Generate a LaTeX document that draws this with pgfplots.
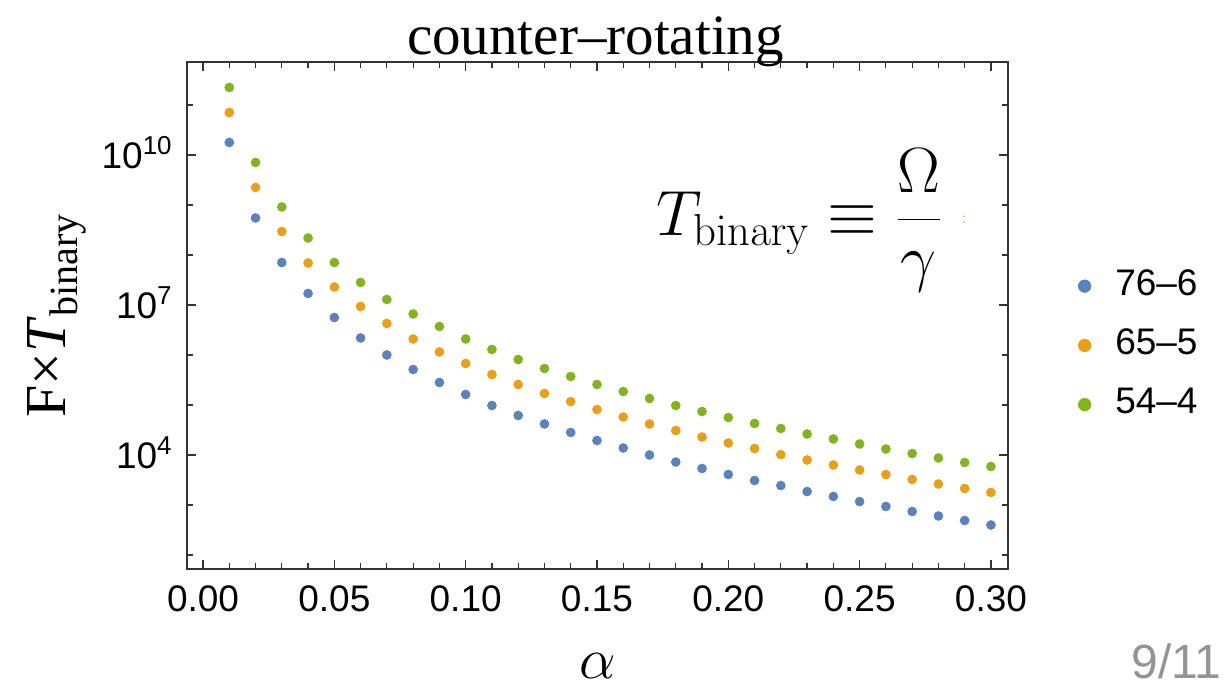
\RequirePackage{fix-cm}
\documentclass[border=0pt]{standalone}
\usepackage{pgfplots}
\pgfplotsset{compat=1.18}
\usepackage{pgfplotstable}
\usepackage[no-math]{fontspec}
\setmainfont{Liberation Sans}
\newfontfamily\timesfont[Ligatures=TeX]{Liberation Serif}
\definecolor{mblue}{HTML}{5A82BE}
\definecolor{morange}{HTML}{EC9E14}
\definecolor{mgreen}{HTML}{82B41C}
\definecolor{framecol}{HTML}{333333}

\pgfplotstableread{
a b o g
0.01 1.78e10 7.08e10 2.24e11
0.02 5.50e8 2.24e9 7.08e9
0.03 7.08e7 2.95e8 9.12e8
0.04 1.70e7 6.92e7 2.19e8
0.05 5.62e6 2.29e7 7.08e7
0.06 2.19e6 9.33e6 2.82e7
0.07 1.00e6 4.27e6 1.29e7
0.08 5.13e5 2.09e6 6.61e6
0.09 2.82e5 1.15e6 3.72e6
0.10 1.62e5 6.76e5 2.09e6
0.11 9.77e4 4.07e5 1.29e6
0.12 6.17e4 2.57e5 8.13e5
0.13 4.17e4 1.70e5 5.37e5
0.14 2.82e4 1.17e5 3.72e5
0.15 1.95e4 8.13e4 2.57e5
0.16 1.38e4 5.75e4 1.86e5
0.17 1.00e4 4.17e4 1.35e5
0.18 7.24e3 3.09e4 9.77e4
0.19 5.37e3 2.29e4 7.41e4
0.20 4.07e3 1.74e4 5.62e4
0.21 3.09e3 1.35e4 4.27e4
0.22 2.45e3 1.02e4 3.39e4
0.23 1.86e3 7.94e3 2.63e4
0.24 1.48e3 6.31e3 2.09e4
0.25 1.17e3 5.01e3 1.66e4
0.26 933 4.07e3 1.32e4
0.27 741 3.24e3 1.07e4
0.28 603 2.63e3 8.71e3
0.29 490 2.14e3 7.08e3
0.30 398 1.78e3 5.89e3
}\datatable

\begin{document}
\begin{tikzpicture}
\useasboundingbox (0,0) rectangle (612pt,344.5pt);
\begin{axis}[
  at={(93.5pt,60pt)}, anchor=south west,
  scale only axis, width=410.5pt, height=253.5pt,
  ymode=log,
  xmin=-0.0061, xmax=0.3065,
  ymin=52.5, ymax=7.24e11,
  axis line style={framecol, line width=0.9pt},
  tick style={framecol, line width=0.6pt},
  tick align=inside, tick pos=both,
  xticklabel pos=lower, yticklabel pos=left,
  major tick length=4.5pt, minor tick length=3.2pt,
  xtick={0,0.05,0.1,0.15,0.2,0.25,0.3},
  minor xtick={0.01,0.02,0.03,0.04,0.06,0.07,0.08,0.09,0.11,0.12,0.13,0.14,0.16,0.17,0.18,0.19,0.21,0.22,0.23,0.24,0.26,0.27,0.28,0.29},
  xticklabels={0.00,0.05,0.10,0.15,0.20,0.25,0.30},
  ytick={1e4,1e7,1e10},
  yticklabels={10\textsuperscript{4},10\textsuperscript{7},10\textsuperscript{10}},
  minor ytick={1e2,1e3,1e5,1e6,1e8,1e9,1e11},
  /pgf/number format/assume math mode=true,
  ticklabel style={font=\fontsize{18.5}{20}\selectfont},
  xticklabel style={inner sep=0pt, yshift=-8pt},
  yticklabel style={inner sep=0pt, anchor=base east, xshift=-7pt, yshift=-6.6pt},
  legend style={at={(1.0858,0.5903)}, anchor=north west, draw=none, fill=none,
    inner sep=0pt, outer sep=0pt, row sep=15.25pt, column sep=12.2pt,
    nodes={inner sep=0pt, font=\fontsize{18.5}{20}\selectfont}},
  legend cell align=left,
  legend image code/.code={\draw[#1, mark size=3.1pt] plot coordinates {(0pt,-1pt)};},
  clip=false,
]
\addplot[only marks, mark=*, mark size=2.2pt, mblue, mark options={draw=none, fill=mblue}] table[x=a, y=b] {\datatable};
\addplot[only marks, mark=*, mark size=2.2pt, morange, mark options={draw=none, fill=morange}] table[x=a, y=o] {\datatable};
\addplot[only marks, mark=*, mark size=2.2pt, mgreen, mark options={draw=none, fill=mgreen}] table[x=a, y=g] {\datatable};
\legend{76–6, 65–5, 54–4}
\node[anchor=west, inner sep=0pt, font=\fontsize{32}{34}\selectfont] at (rel axis cs:0.5713,0.688) {$\displaystyle T_{\mathrm{binary}} \equiv \frac{\Omega}{\gamma}$};
\node[inner sep=0pt, text=morange, font=\fontsize{7}{7}\selectfont] at (rel axis cs:0.9464,0.688) {:};
\end{axis}
\node[anchor=base, inner sep=0pt, font=\timesfont\fontsize{28.5}{30}\selectfont] at (297.75pt,317pt) {counter–rotating};
\node[rotate=90, anchor=base, inner sep=0pt, font=\timesfont\fontsize{29}{30}\selectfont] at (32.5pt,186.5pt) {F×\textit{T}\raisebox{-0.22em}{\fontsize{20}{20}\selectfont binary}};
\node[anchor=base, inner sep=0pt, font=\fontsize{29}{30}\selectfont] at (299pt,5pt) {$\alpha$};
\node[anchor=base east, inner sep=0pt, text=black!42, font=\fontsize{24}{26}\selectfont] at (611pt,5pt) {9/11};
\end{tikzpicture}
\end{document}
